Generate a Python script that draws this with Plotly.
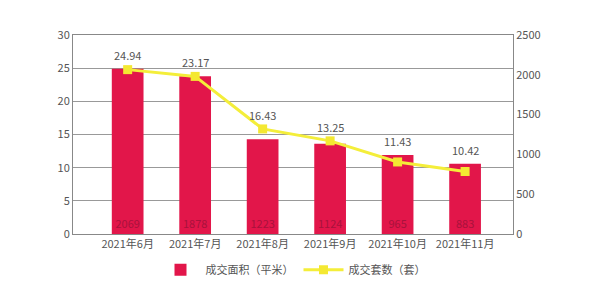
import plotly.graph_objects as go

months = ["2021年6月", "2021年7月", "2021年8月", "2021年9月", "2021年10月", "2021年11月"]
# bar heights as drawn (left axis)
area_drawn = [24.9, 23.8, 14.3, 13.6, 11.9, 10.6]
# line points as drawn (right axis)
count_drawn = [2065, 1980, 1320, 1170, 905, 785]
# value labels printed on the chart
area_labels = ["24.94", "23.17", "16.43", "13.25", "11.43", "10.42"]
count_labels = ["2069", "1878", "1223", "1124", "965", "883"]

left_max, right_max = 30, 2500

fig = go.Figure()
fig.add_trace(go.Bar(
    x=months, y=area_drawn, name="成交面积（平米）",
    marker=dict(color="#e2164a", line=dict(width=0)), width=0.47,
    text=count_labels, textposition="inside", insidetextanchor="start",
    textfont=dict(color="#a8123c", size=11), yaxis="y", cliponaxis=False,
))
fig.add_trace(go.Scatter(
    x=months, y=count_drawn, name="成交套数（套）", yaxis="y2",
    mode="lines+markers",
    line=dict(color="#f4ee3a", width=3),
    marker=dict(color="#f4e832", size=9, symbol="square"),
))

for m, a, c, lab in zip(months, area_drawn, count_drawn, area_labels):
    top = max(a, c * left_max / right_max)
    fig.add_annotation(x=m, y=top, yref="y", text=lab, showarrow=False,
                       yanchor="bottom", yshift=4,
                       font=dict(size=11, color="#555"))

fig.update_layout(
    width=600, height=296,
    margin=dict(l=73, r=87, t=35, b=60),
    paper_bgcolor="white", plot_bgcolor="white",
    font=dict(family="Noto Sans CJK SC, Noto Sans, sans-serif", size=11, color="#555"),
    showlegend=True,
    legend=dict(orientation="h", x=0.5, xanchor="center", y=-0.18, yanchor="middle",
                font=dict(size=11, color="#555"), itemwidth=40),
    xaxis=dict(range=[-0.81, 5.71], showline=True, linecolor="#888", linewidth=1,
               mirror=True, ticks="", showgrid=False,
               tickfont=dict(size=11, color="#555")),
    yaxis=dict(range=[0, left_max], dtick=5, showgrid=True, gridcolor="#999",
               gridwidth=1, showline=True, linecolor="#888", linewidth=1,
               zeroline=False, ticks="", tickfont=dict(size=11, color="#555")),
    yaxis2=dict(range=[0, right_max], dtick=500, overlaying="y", side="right",
                showgrid=False, showline=True, linecolor="#888", linewidth=1,
                zeroline=False, ticks="", tickfont=dict(size=11, color="#555")),
)

fig.write_html("out.html")
